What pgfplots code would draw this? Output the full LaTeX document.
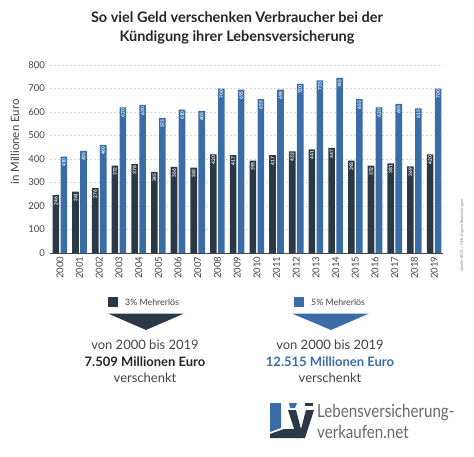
\documentclass[border=0pt]{standalone}
\usepackage{pgfplots}
\pgfplotsset{compat=1.18}
\usepackage{pgfplotstable}
\usepackage{fontspec}
\setmainfont{Lato}
\newfontfamily\logofont[FakeStretch=0.84]{Lato}
\definecolor{darkbar}{HTML}{2B3947}
\definecolor{bluebar}{HTML}{3A6DA6}
\definecolor{txtgray}{HTML}{444444}
\definecolor{titlecol}{HTML}{262626}
\definecolor{gridcol}{HTML}{D9D9D9}
\definecolor{logogray}{HTML}{6A6A6A}

\pgfplotstableread{
x dark blue
0 246 410
1 261 435
2 276 460
3 372 620
4 378 630
5 345 575
6 366 610
7 363 605
8 420 700
9 417 695
10 393 655
11 417 695
12 432 720
13 441 735
14 447 745
15 393 655
16 372 620
17 381 635
18 369 615
19 420 700
}\datatable

\begin{document}
\begin{tikzpicture}[x=1pt,y=1pt]
\useasboundingbox (0,0) rectangle (474,456);
\fill[white] (0,0) rectangle (474,456);

% title
\node[font=\fontsize{14.5}{19}\selectfont\bfseries, text=titlecol, align=center] at (237,428)
  {So viel Geld verschenken Verbraucher bei der\\Kündigung ihrer Lebensversicherung};

\begin{axis}[
  at={(50pt,203pt)}, anchor=south west,
  scale only axis, width=393pt, height=188pt,
  xmin=-0.5, xmax=19.45, ymin=0, ymax=800,
  axis x line*=bottom, axis y line*=left,
  x axis line style={draw=txtgray, line width=0.9pt},
  y axis line style={draw=none},
  major tick length=0pt,
  ytick={0,100,...,800},
  ymajorgrids, grid style={gridcol, dash pattern=on 2pt off 2pt, line width=0.5pt},
  xtick={0,...,19},
  xticklabels={2000,2001,2002,2003,2004,2005,2006,2007,2008,2009,2010,2011,2012,2013,2014,2015,2016,2017,2018,2019},
  /pgf/number format/assume math mode=true,
  /pgf/number format/1000 sep={},
  yticklabel style={font=\fontsize{9.5}{11}\selectfont, text=txtgray, xshift=-1.5pt},
  xticklabel style={font=\fontsize{9.5}{11}\selectfont, text=txtgray, rotate=90, anchor=east},
  ybar=1.4pt, bar width=6.6pt,
  nodes near coords,
  nodes near coords style={rotate=90, anchor=east, font=\fontsize{4.8}{5}\selectfont\bfseries, text=white, inner sep=1.5pt},
  clip=false,
]
\addplot[fill=darkbar, draw=none] table[x=x, y=dark] {\datatable};
\addplot[fill=bluebar, draw=none] table[x=x, y=blue] {\datatable};
\end{axis}

% y label
\node[rotate=90, font=\fontsize{11.5}{13}\selectfont, text=txtgray] at (15,314) {in Millionen Euro};

% source
\node[rotate=90, anchor=west, font=\fontsize{3.8}{4.5}\selectfont, text=gray, inner sep=0pt] at (462,184) {Quelle: BVZL / GDV, Eigene Berechnungen};

% left legend block
\fill[darkbar] (108,149.5) rectangle (117.5,159);
\node[anchor=west, font=\fontsize{8.8}{10}\selectfont, text=txtgray, inner sep=0pt] at (125,154) {3\% Mehrerlös};
\fill[darkbar] (108,142.5) -- (184,142.5) -- (146,126) -- cycle;
\node[font=\fontsize{13}{15}\selectfont, text=txtgray] at (145,111) {von 2000 bis 2019};
\node[font=\fontsize{13}{15}\selectfont\bfseries, text=titlecol] at (145,94) {7.509 Millionen Euro};
\node[font=\fontsize{13}{15}\selectfont, text=txtgray] at (145,78) {verschenkt};

% right legend block
\fill[bluebar] (294,149.5) rectangle (303.5,159);
\node[anchor=west, font=\fontsize{8.8}{10}\selectfont, text=txtgray, inner sep=0pt] at (311,154) {5\% Mehrerlös};
\fill[bluebar] (292,142.5) -- (369,142.5) -- (331,126) -- cycle;
\node[font=\fontsize{13}{15}\selectfont, text=txtgray] at (330,111) {von 2000 bis 2019};
\node[font=\fontsize{13}{15}\selectfont\bfseries, text=bluebar] at (330,94) {12.515 Millionen Euro};
\node[font=\fontsize{13}{15}\selectfont, text=txtgray] at (330,78) {verschenkt};

% logo graphic
\fill[bluebar] (270,53) -- (281,53) -- (281,28) -- (270,24) -- cycle;
\fill[darkbar] (270,22) -- (284,27) -- (300,27) -- (300,18) -- (270,18) -- cycle;
\fill[darkbar] (288,46) -- (296,46) -- (301,27) -- (306,46) -- (314,46) -- (305,18) -- (297,18) -- cycle;
\fill[bluebar] (289,53) -- (297,53) -- (295,48) -- (290,48) -- cycle;
\fill[darkbar] (305,53) -- (313,53) -- (313,50) -- (305,50) -- cycle;
% logo text
\node[anchor=west, font=\logofont\fontsize{18}{18}\selectfont, text=logogray, inner sep=0pt] at (317,43) {Lebensversicherung-};
\node[anchor=west, font=\logofont\fontsize{18}{18}\selectfont, text=logogray, inner sep=0pt] at (317,24) {verkaufen.net};
\end{tikzpicture}
\end{document}
